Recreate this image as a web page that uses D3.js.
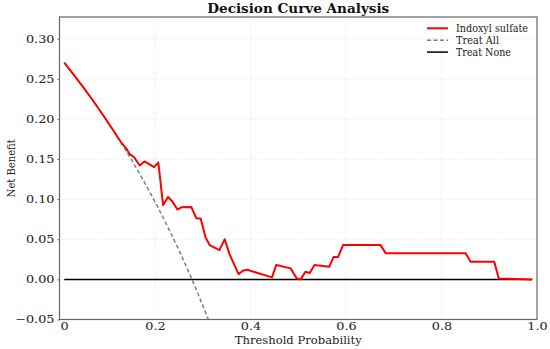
<!DOCTYPE html>
<html>
<head>
<meta charset="utf-8">
<script src="https://cdn.jsdelivr.net/npm/d3@7"></script>
<style>
  body { margin: 0; background: #fff; }
  svg { font-family: "DejaVu Serif", "Liberation Serif", serif; }
</style>
</head>
<body>
<svg id="dca" width="550" height="349"></svg>
<script>
const width = 550;
const height = 349;
const margin = { top: 17, right: 13, bottom: 29.5, left: 59.5 };

// model curve (Indoxyl sulfate)
const modelThresh = [0.01, 0.03, 0.05, 0.07, 0.09, 0.11, 0.13, 0.14, 0.147, 0.156, 0.168, 0.178, 0.198, 0.207, 0.217,
    0.227, 0.2355, 0.247, 0.256, 0.276, 0.2865, 0.2956, 0.306, 0.3145, 0.335, 0.346, 0.356, 0.375, 0.384, 0.393,
    0.445, 0.454, 0.484, 0.497, 0.505, 0.515, 0.524, 0.534, 0.565, 0.574, 0.5835, 0.594, 0.672, 0.683, 0.8505,
    0.861, 0.9105, 0.92, 0.99];
const modelNB = [0.270, 0.2549, 0.2393, 0.2229, 0.2058, 0.1880, 0.1700, 0.163, 0.156, 0.1525, 0.142, 0.147, 0.140,
    0.1455, 0.0924, 0.1027, 0.0978, 0.087, 0.090, 0.0903, 0.0762, 0.0759, 0.0522, 0.0427, 0.0364, 0.0501, 0.0315,
    0.0066, 0.0107, 0.012, 0.0025, 0.018, 0.0137, 0.001, 0.0, 0.0095, 0.008, 0.018, 0.0157, 0.028, 0.028, 0.043,
    0.043, 0.0327, 0.0327, 0.0219, 0.0219, 0.001, 0.0];

// treat all
const allThresh = [0.01, 0.03, 0.05, 0.07, 0.09, 0.11, 0.13, 0.15, 0.17, 0.19, 0.21, 0.23, 0.25, 0.27, 0.29, 0.31, 0.33];
const allNB = [0.2700, 0.2549, 0.2393, 0.2229, 0.2058, 0.1880, 0.1693, 0.1498, 0.1293, 0.1078, 0.0852, 0.0614,
    0.0364, 0.0100, -0.0179, -0.0474, -0.0787];

// treat none
const noneThresh = [0.01, 0.99];
const noneNB = [0, 0];

const xTicks = [0, 0.2, 0.4, 0.6, 0.8, 1.0];
const yTicks = [-0.05, 0, 0.05, 0.10, 0.15, 0.20, 0.25, 0.30];
const legendLabels = ["Indoxyl sulfate", "Treat All", "Treat None"];

const svg = d3.select("#dca");
const innerW = width - margin.left - margin.right;
const innerH = height - margin.top - margin.bottom;

const xScale = d3.scaleLinear().domain([0, 1]).range([margin.left, margin.left + innerW]);
const yScale = d3.scaleLinear().domain([-0.05, 0.327]).range([margin.top + innerH, margin.top]);

// the serif on this machine is narrower than the original one, so stretch text a bit
function widen(sel, factor) {
    sel.each(function() {
        const w = this.getComputedTextLength();
        d3.select(this).attr("textLength", w * factor).attr("lengthAdjust", "spacingAndGlyphs");
    });
}
function fitTo(sel, target) {
    sel.attr("textLength", target).attr("lengthAdjust", "spacingAndGlyphs");
}

svg.append("clipPath").attr("id", "clip")
    .append("rect")
    .attr("x", margin.left).attr("y", margin.top)
    .attr("width", innerW).attr("height", innerH);

// grid
svg.append("g")
    .selectAll("line")
    .data(xTicks.slice(1, -1))
    .enter().append("line")
    .attr("x1", d => xScale(d)).attr("x2", d => xScale(d))
    .attr("y1", margin.top).attr("y2", margin.top + innerH)
    .attr("stroke", "#e0e0e0").attr("stroke-width", 0.8).attr("stroke-dasharray", "1,1.5");

svg.append("g")
    .selectAll("line")
    .data(yTicks.slice(1))
    .enter().append("line")
    .attr("x1", margin.left).attr("x2", margin.left + innerW)
    .attr("y1", d => yScale(d)).attr("y2", d => yScale(d))
    .attr("stroke", "#e0e0e0").attr("stroke-width", 0.8).attr("stroke-dasharray", "1,1.5");

const fmtX = d => d === 0 ? "0" : d3.format(".1f")(d);
const fmtY = d => d3.format(".2f")(d).replace("-", "\u2212");

// x axis
const xAxis = svg.append("g")
    .attr("transform", `translate(0, ${margin.top + innerH})`)
    .call(d3.axisBottom(xScale).tickValues(xTicks).tickFormat(fmtX).tickSize(0).tickPadding(3))
    .attr("font-family", null).attr("font-size", null);
xAxis.select(".domain").remove();
xAxis.selectAll("text").style("font-size", "10.5px").style("fill", "#222");
xAxis.selectAll("text").filter(d => d === 0).attr("dx", 4.5);
widen(xAxis.selectAll("text"), 1.22);

// y axis
const yAxis = svg.append("g")
    .attr("transform", `translate(${margin.left}, 0)`)
    .call(d3.axisLeft(yScale).tickValues(yTicks).tickFormat(fmtY).tickSize(2).tickPadding(3))
    .attr("font-family", null).attr("font-size", null);
yAxis.select(".domain").remove();
yAxis.selectAll("line").attr("stroke", "#666");
yAxis.selectAll("text").style("font-size", "10.5px").style("fill", "#222");
widen(yAxis.selectAll("text"), 1.22);

// lines
const line = d3.line().x(d => xScale(d[0])).y(d => yScale(d[1]));
const plot = svg.append("g").attr("clip-path", "url(#clip)");

plot.append("path")
    .datum(noneThresh.map((t, i) => [t, noneNB[i]]))
    .attr("d", line)
    .attr("fill", "none").attr("stroke", "#000").attr("stroke-width", 1.5);

plot.append("path")
    .datum(allThresh.map((t, i) => [t, allNB[i]]))
    .attr("d", line.curve(d3.curveMonotoneX))
    .attr("fill", "none").attr("stroke", "#808080").attr("stroke-width", 1.5)
    .attr("stroke-dasharray", "4,2.5");

line.curve(d3.curveLinear);
plot.append("path")
    .datum(modelThresh.map((t, i) => [t, modelNB[i]]))
    .attr("d", line)
    .attr("fill", "none").attr("stroke", "#ff0000").attr("stroke-width", 2)
    .attr("stroke-linejoin", "round");

// frame
svg.append("rect")
    .attr("x", margin.left).attr("y", margin.top)
    .attr("width", innerW).attr("height", innerH)
    .attr("fill", "none").attr("stroke", "#666").attr("stroke-width", 1.2);

// title
svg.append("text")
    .attr("x", margin.left + innerW / 2)
    .attr("y", 13.3)
    .style("text-anchor", "middle")
    .style("font-weight", "bold")
    .style("font-size", "12.5px")
    .style("fill", "#111")
    .text("Decision Curve Analysis")
    .call(fitTo, 182);

// x label
svg.append("text")
    .attr("x", margin.left + innerW / 2)
    .attr("y", 343.5)
    .style("text-anchor", "middle")
    .style("font-size", "11px")
    .style("fill", "#222")
    .text("Threshold Probability")
    .call(fitTo, 127);

// y label
svg.append("text")
    .attr("transform", "rotate(-90)")
    .attr("x", -(margin.top + innerH / 2))
    .attr("y", 15)
    .style("text-anchor", "middle")
    .style("font-size", "11px")
    .style("fill", "#222")
    .text("Net Benefit")
    .call(fitTo, 58);

// legend
const legStyles = [
    { stroke: "#ff0000", dash: null, w: 2, tw: 72 },
    { stroke: "#808080", dash: "4,2.5", w: 1.5, tw: 43 },
    { stroke: "#000", dash: null, w: 1.5, tw: 55 }
];
const legend = svg.append("g").attr("transform", "translate(427, 28.3)");
legendLabels.forEach((lab, i) => {
    const row = legend.append("g").attr("transform", `translate(0, ${i * 11.9})`);
    row.append("line")
        .attr("x1", 0).attr("x2", 21).attr("y1", 0).attr("y2", 0)
        .attr("stroke", legStyles[i].stroke)
        .attr("stroke-width", legStyles[i].w)
        .attr("stroke-dasharray", legStyles[i].dash);
    row.append("text")
        .attr("x", 29).attr("y", 3.6)
        .style("font-size", "10.5px")
        .style("fill", "#222")
        .text(lab)
        .call(fitTo, legStyles[i].tw);
});
</script>
</body>
</html>
